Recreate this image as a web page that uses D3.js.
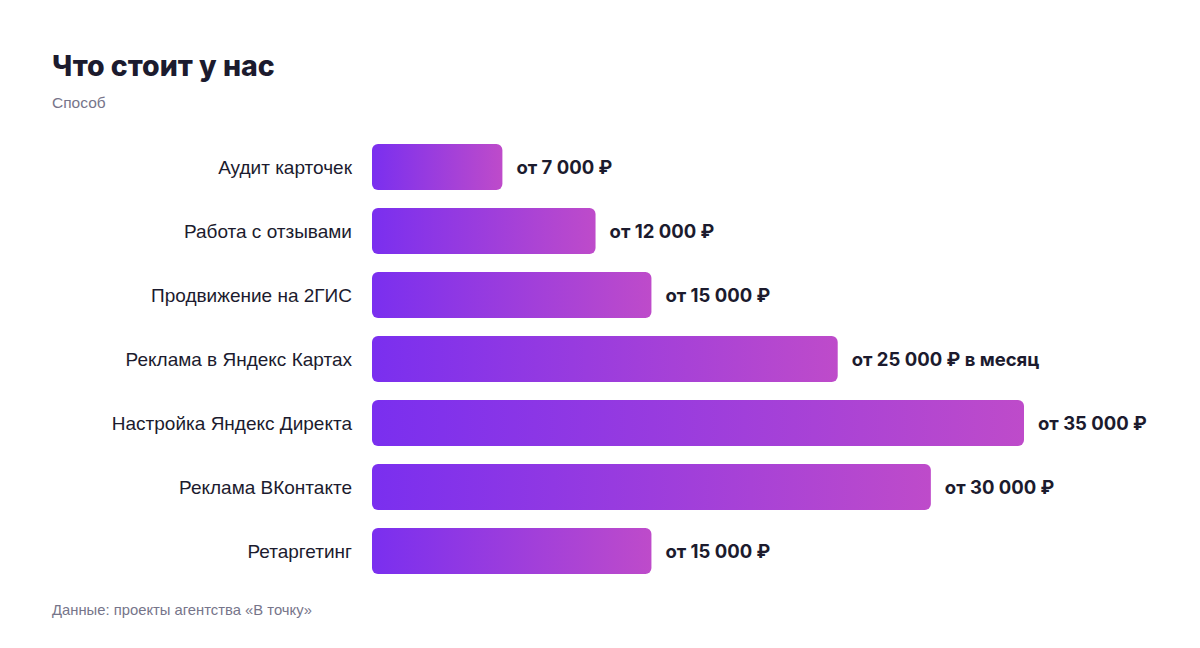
<!DOCTYPE html>
<html>
<head>
<meta charset="utf-8">
<script src="https://cdn.jsdelivr.net/npm/d3@7"></script>
<style>
  html, body { margin: 0; padding: 0; background: #fff; }
  svg { display: block; }
</style>
</head>
<body>
<svg id="vis" width="1200" height="648"></svg>
<script>
const categories = [
  "Аудит карточек",
  "Работа с отзывами",
  "Продвижение на 2ГИС",
  "Реклама в Яндекс Картах",
  "Настройка Яндекс Директа",
  "Реклама ВКонтакте",
  "Ретаргетинг"
];
const values = [7000, 12000, 15000, 25000, 35000, 30000, 15000];
const valueLabels = [
  "от 7 000 ₽",
  "от 12 000 ₽",
  "от 15 000 ₽",
  "от 25 000 ₽ в месяц",
  "от 35 000 ₽",
  "от 30 000 ₽",
  "от 15 000 ₽"
];

const title = "Что стоит у нас";
const subtitle = "Способ";
const source = "Данные: проекты агентства «В точку»";

const svg = d3.select("#vis");
const ink = "#1c1b2e", muted = "#76758a";
const labelFont = "'Liberation Sans', Arial, sans-serif";
const boldFont = "Inter, 'Liberation Sans', sans-serif";

const defs = svg.append("defs");
const grad = defs.append("linearGradient")
  .attr("id", "barGrad")
  .attr("x1", "0%").attr("x2", "100%").attr("y1", "0%").attr("y2", "0%");
grad.append("stop").attr("offset", "0%").attr("stop-color", "#7a2fef");
grad.append("stop").attr("offset", "100%").attr("stop-color", "#be4bca");

const x = d3.scaleLinear().domain([0, d3.max(values)]).range([372, 1024]);
const y = d3.scaleBand().domain(categories).range([135, 583]).paddingInner(0.28).paddingOuter(0.14);

svg.append("text")
  .attr("x", 52).attr("y", 76)
  .attr("font-family", boldFont).attr("font-weight", 800).attr("font-size", 28.5)
  .attr("fill", ink).text(title);

svg.append("text")
  .attr("x", 52).attr("y", 108)
  .attr("font-family", labelFont).attr("font-size", 15.5)
  .attr("fill", muted).text(subtitle);

const rows = svg.append("g").selectAll("g")
  .data(categories.map((c, i) => ({c, v: values[i], l: valueLabels[i]})))
  .join("g")
  .attr("transform", d => `translate(0,${y(d.c)})`);

rows.append("rect")
  .attr("x", x(0))
  .attr("width", d => x(d.v) - x(0))
  .attr("height", y.bandwidth())
  .attr("rx", 6)
  .attr("fill", "url(#barGrad)");

rows.append("text")
  .attr("x", x(0) - 20)
  .attr("y", y.bandwidth() / 2)
  .attr("dy", "0.35em")
  .attr("text-anchor", "end")
  .attr("font-family", labelFont).attr("font-size", 19)
  .attr("fill", ink)
  .text(d => d.c);

rows.append("text")
  .attr("x", d => x(d.v) + 14)
  .attr("y", y.bandwidth() / 2 + 1)
  .attr("dy", "0.35em")
  .attr("font-family", boldFont).attr("font-weight", 700).attr("font-size", 18.5)
  .attr("fill", ink)
  .text(d => d.l);

svg.append("text")
  .attr("x", 52).attr("y", 615)
  .attr("font-family", labelFont).attr("font-size", 14.8)
  .attr("fill", muted).text(source);
</script>
</body>
</html>
